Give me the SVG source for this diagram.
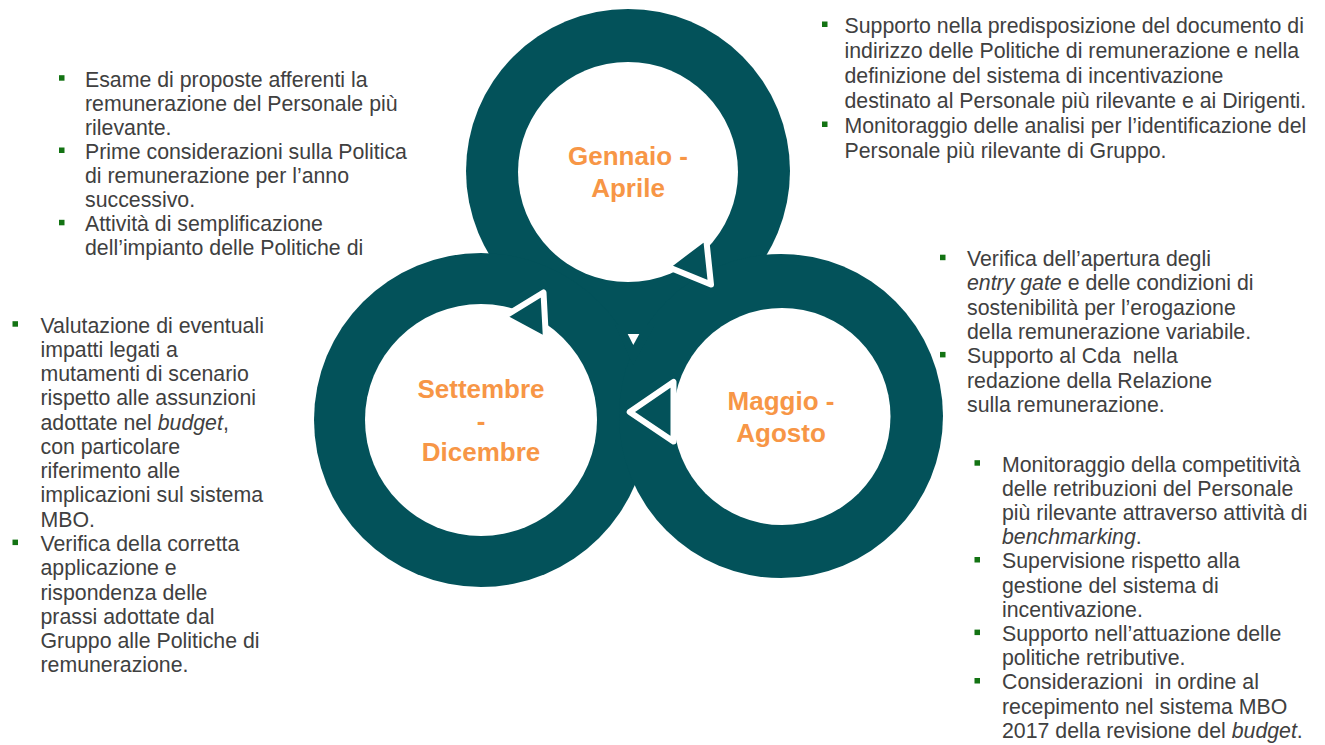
<svg xmlns="http://www.w3.org/2000/svg" width="1325" height="745" viewBox="0 0 1325 745">
<style>
.ring{fill:#03525A}
.hole{fill:#FFFFFF}
.lbl{font-family:"Liberation Sans",Arial,sans-serif;font-size:26px;font-weight:bold;fill:#F79646;text-anchor:middle}
.t{font-family:"Liberation Sans",Arial,sans-serif;font-size:21.3px;fill:#404040}
.i{font-style:italic}
.bul{fill:#137313}
.head{fill:#03525A;stroke:#FFFFFF;stroke-width:6;stroke-linejoin:round}
</style>
<rect width="1325" height="745" fill="#FFFFFF"/>
<g id="node-gennaio-aprile">
  <circle class="ring" cx="628" cy="171" r="162"/>
  <circle class="hole" cx="628" cy="172" r="110"/>
  <text class="lbl" x="628" y="164.5">Gennaio -</text>
  <text class="lbl" x="628" y="196.5">Aprile</text>
</g>
<g id="node-settembre-dicembre">
  <circle class="ring" cx="481" cy="420" r="167"/>
  <circle class="hole" cx="481" cy="420" r="116"/>
  <text class="lbl" x="481" y="398">Settembre</text>
  <text class="lbl" x="481" y="429.5">-</text>
  <text class="lbl" x="481" y="461">Dicembre</text>
</g>
<g id="node-maggio-agosto">
  <circle class="ring" cx="781" cy="416" r="162"/>
  <circle class="hole" cx="782" cy="416.5" r="108.5"/>
  <text class="lbl" x="781" y="410">Maggio -</text>
  <text class="lbl" x="781" y="442">Agosto</text>
</g>
<g id="connectors">
  <polygon class="ring" points="615,325 655,325 633,365"/>
  <polygon fill="#FFFFFF" points="627.7,334 639.3,334 633.3,345"/>
  <polygon class="head" points="667,266.5 706,237 711,284.5"/>
  <polygon class="head" points="503.5,317 543.5,292.5 546,340"/>
  <polygon class="head" points="629.7,412 673.5,382 673.5,441.5"/>
</g>
<g id="notes-gennaio-aprile">
  <rect class="bul" x="822" y="21.5" width="5.5" height="5.5"/>
  <rect class="bul" x="822" y="121.5" width="5.5" height="5.5"/>
  <text class="t" x="844.5" y="32.5">
    <tspan x="844.5" y="32.5">Supporto nella predisposizione del documento di</tspan>
    <tspan x="844.5" y="57.5">indirizzo delle Politiche di remunerazione e nella</tspan>
    <tspan x="844.5" y="82.5">definizione del sistema di incentivazione</tspan>
    <tspan x="844.5" y="107.5">destinato al Personale più rilevante e ai Dirigenti.</tspan>
    <tspan x="844.5" y="132.5">Monitoraggio delle analisi per l’identificazione del</tspan>
    <tspan x="844.5" y="157.5">Personale più rilevante di Gruppo.</tspan>
  </text>
</g>
<g id="notes-top-left">
  <rect class="bul" x="59" y="75.2" width="5.5" height="5.5"/>
  <rect class="bul" x="59" y="147.5" width="5.5" height="5.5"/>
  <rect class="bul" x="59" y="219.8" width="5.5" height="5.5"/>
  <text class="t" x="85" y="86.5">
    <tspan x="85" y="86.5">Esame di proposte afferenti la</tspan>
    <tspan x="85" y="110.6">remunerazione del Personale più</tspan>
    <tspan x="85" y="134.7">rilevante.</tspan>
    <tspan x="85" y="158.8">Prime considerazioni sulla Politica</tspan>
    <tspan x="85" y="182.9">di remunerazione per l’anno</tspan>
    <tspan x="85" y="207">successivo.</tspan>
    <tspan x="85" y="231.1">Attività di semplificazione</tspan>
    <tspan x="85" y="255.2">dell’impianto delle Politiche di</tspan>
  </text>
</g>
<g id="notes-settembre-dicembre">
  <rect class="bul" x="12.5" y="321.2" width="5.5" height="5.5"/>
  <rect class="bul" x="12.5" y="539.6" width="5.5" height="5.5"/>
  <text class="t" x="40.5" y="332.5">
    <tspan x="40.5" y="332.5">Valutazione di eventuali</tspan>
    <tspan x="40.5" y="356.8">impatti legati a</tspan>
    <tspan x="40.5" y="381">mutamenti di scenario</tspan>
    <tspan x="40.5" y="405.3">rispetto alle assunzioni</tspan>
    <tspan x="40.5" y="429.6">adottate nel <tspan class="i">budget</tspan>,</tspan>
    <tspan x="40.5" y="453.9">con particolare</tspan>
    <tspan x="40.5" y="478.1">riferimento alle</tspan>
    <tspan x="40.5" y="502.4">implicazioni sul sistema</tspan>
    <tspan x="40.5" y="526.7">MBO.</tspan>
    <tspan x="40.5" y="550.9">Verifica della corretta</tspan>
    <tspan x="40.5" y="575.2">applicazione e</tspan>
    <tspan x="40.5" y="599.5">rispondenza delle</tspan>
    <tspan x="40.5" y="623.7">prassi adottate dal</tspan>
    <tspan x="40.5" y="648">Gruppo alle Politiche di</tspan>
    <tspan x="40.5" y="672.3">remunerazione.</tspan>
  </text>
</g>
<g id="notes-maggio-agosto-top">
  <rect class="bul" x="940" y="254.7" width="5.5" height="5.5"/>
  <rect class="bul" x="940" y="351.9" width="5.5" height="5.5"/>
  <text class="t" x="967" y="266" xml:space="preserve"><tspan x="967" y="266">Verifica dell’apertura degli</tspan><tspan x="967" y="290.3"><tspan class="i">entry gate</tspan> e delle condizioni di</tspan><tspan x="967" y="314.6">sostenibilità per l’erogazione</tspan><tspan x="967" y="338.9">della remunerazione variabile.</tspan><tspan x="967" y="363.2">Supporto al Cda  nella</tspan><tspan x="967" y="387.5">redazione della Relazione</tspan><tspan x="967" y="411.8">sulla remunerazione.</tspan></text>
</g>
<g id="notes-maggio-agosto-bottom">
  <rect class="bul" x="974.5" y="460.2" width="5.5" height="5.5"/>
  <rect class="bul" x="974.5" y="557" width="5.5" height="5.5"/>
  <rect class="bul" x="974.5" y="629.6" width="5.5" height="5.5"/>
  <rect class="bul" x="974.5" y="678" width="5.5" height="5.5"/>
  <text class="t" x="1002" y="471.5" xml:space="preserve"><tspan x="1002" y="471.5">Monitoraggio della competitività</tspan><tspan x="1002" y="495.7">delle retribuzioni del Personale</tspan><tspan x="1002" y="519.9">più rilevante attraverso attività di</tspan><tspan x="1002" y="544.1"><tspan class="i">benchmarking</tspan>.</tspan><tspan x="1002" y="568.3">Supervisione rispetto alla</tspan><tspan x="1002" y="592.5">gestione del sistema di</tspan><tspan x="1002" y="616.7">incentivazione.</tspan><tspan x="1002" y="640.9">Supporto nell’attuazione delle</tspan><tspan x="1002" y="665.1">politiche retributive.</tspan><tspan x="1002" y="689.3">Considerazioni  in ordine al</tspan><tspan x="1002" y="713.5">recepimento nel sistema MBO</tspan><tspan x="1002" y="737.7">2017 della revisione del <tspan class="i">budget</tspan>.</tspan></text>
</g>
</svg>
